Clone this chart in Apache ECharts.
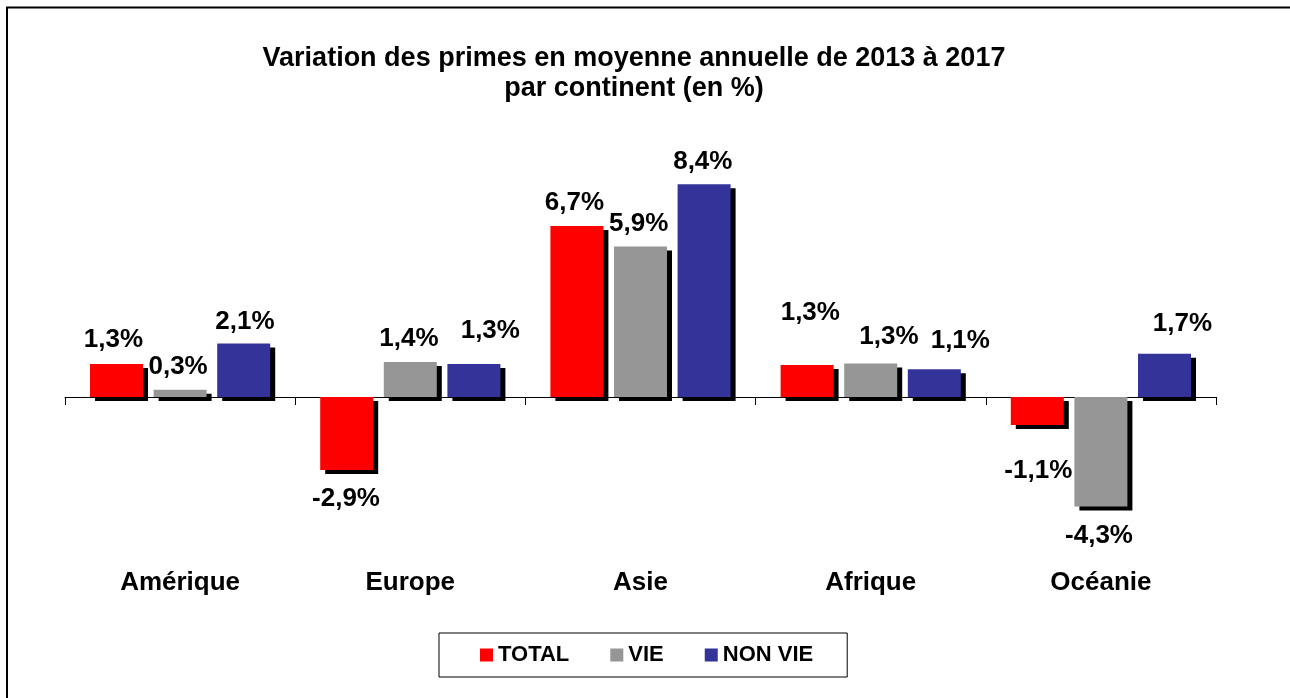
<!DOCTYPE html>
<html>
<head>
<meta charset="utf-8">
<script src="https://cdn.jsdelivr.net/npm/echarts@6/dist/echarts.min.js"></script>
<style>
html,body{margin:0;padding:0;background:#fff;}
#chart{width:1290px;height:698px;}
</style>
</head>
<body>
<div id="chart"></div>
<script>
// ---- data ----
var categories = ['Amérique', 'Europe', 'Asie', 'Afrique', 'Océanie'];
var seriesNames = ['TOTAL', 'VIE', 'NON VIE'];
var totalValues = [1.3, -2.87, 6.72, 1.26, -1.1];
var vieValues = [0.28, 1.38, 5.91, 1.32, -4.3];
var nonVieValues = [2.1, 1.3, 8.36, 1.09, 1.7];
var titleLines = ['Variation des primes en moyenne annuelle de 2013 à 2017', 'par continent (en %)'];

// label placement (text centre relative to the bar end), per series per category
var labelDx = [
  [-3, -0.7, -2.4, 3.2, 1],
  [-2, -1.3, -1.8, 18.3, -1.9],
  [1.3, 16.4, -1.3, 26, 18]
];
var labelDy = [
  [-24.4, 29, -23.3, -52.2, 45.7],
  [-22.9, -22.9, -22.9, -26.9, 29.1],
  [-21.6, -33, -22.2, -28, -30.2]
];
var colors = ['#FF0000', '#969696', '#333399'];
var FONT = '"Liberation Sans", Arial, sans-serif';
var FS = 26;

function buildData(values, si) {
  return values.map(function (v, i) {
    var pos = v >= 0 ? 'top' : 'bottom';
    var dy = v >= 0 ? labelDy[si][i] + FS / 2 : labelDy[si][i] - FS / 2;
    return {
      value: v,
      label: { position: pos, distance: 0, offset: [labelDx[si][i], dy] }
    };
  });
}

var allValues = [totalValues, vieValues, nonVieValues];
var series = allValues.map(function (vals, si) {
  return {
    name: seriesNames[si],
    type: 'bar',
    xAxisIndex: 0,
    barWidth: 53,
    barGap: '20%',
    data: buildData(vals, si),
    itemStyle: {
      color: colors[si],
      shadowColor: '#000',
      shadowBlur: 0,
      shadowOffsetX: 5,
      shadowOffsetY: 4
    },
    label: {
      show: true,
      fontFamily: FONT,
      fontWeight: 'bold',
      fontSize: FS,
      lineHeight: FS,
      color: '#000',
      formatter: function (p) {
        return p.value.toFixed(1).replace('.', ',') + '%';
      }
    },
    emphasis: { disabled: true },
    animation: false
  };
});

var chart = echarts.init(document.getElementById('chart'), null, { renderer: 'canvas' });
chart.setOption({
  backgroundColor: '#fff',
  animation: false,
  title: {
    text: titleLines.join('\n'),
    left: 634,
    top: 44,
    padding: 0,
    textAlign: 'center',
    textStyle: {
      fontFamily: FONT,
      fontWeight: 'bold',
      fontSize: 27,
      lineHeight: 30,
      color: '#000'
    }
  },
  legend: {
    data: seriesNames,
    left: 439,
    top: 633,
    orient: 'horizontal',
    padding: [11, 34, 11, 41],
    itemGap: 41,
    itemWidth: 13,
    itemHeight: 13,
    icon: 'rect',
    borderColor: '#000',
    borderWidth: 1,
    backgroundColor: '#fff',
    itemStyle: { shadowColor: 'rgba(0,0,0,0)', shadowBlur: 0, shadowOffsetX: 0, shadowOffsetY: 0 },
    textStyle: {
      fontFamily: FONT,
      fontWeight: 'bold',
      fontSize: 22,
      lineHeight: 22,
      color: '#000'
    }
  },
  grid: {
    left: 65,
    right: 74,
    top: 142.5,
    height: 407.2,
    containLabel: false,
    outerBoundsMode: 'none'
  },
  xAxis: [{
    type: 'category',
    data: categories,
    position: 'bottom',
    axisLine: { show: true, onZero: true, lineStyle: { color: '#000', width: 1 } },
    axisTick: { show: true, length: 8, alignWithLabel: false, lineStyle: { color: '#000', width: 1 } },
    axisLabel: { show: false },
    splitLine: { show: false }
  }, {
    type: 'category',
    data: categories,
    position: 'bottom',
    axisLine: { show: false, onZero: false },
    axisTick: { show: false },
    axisLabel: {
      show: true,
      margin: 20,
      fontFamily: FONT,
      fontWeight: 'bold',
      fontSize: FS,
      lineHeight: FS,
      color: '#000',
      interval: 0
    },
    splitLine: { show: false }
  }],
  yAxis: {
    type: 'value',
    min: -6,
    max: 10,
    interval: 2,
    show: false,
    splitLine: { show: false }
  },
  graphic: [{
    type: 'rect',
    shape: { x: 7, y: 7.5, width: 1300, height: 700 },
    style: { fill: 'none', stroke: '#000', lineWidth: 2 },
    silent: true,
    z: -1
  }],
  series: series
});
</script>
</body>
</html>
